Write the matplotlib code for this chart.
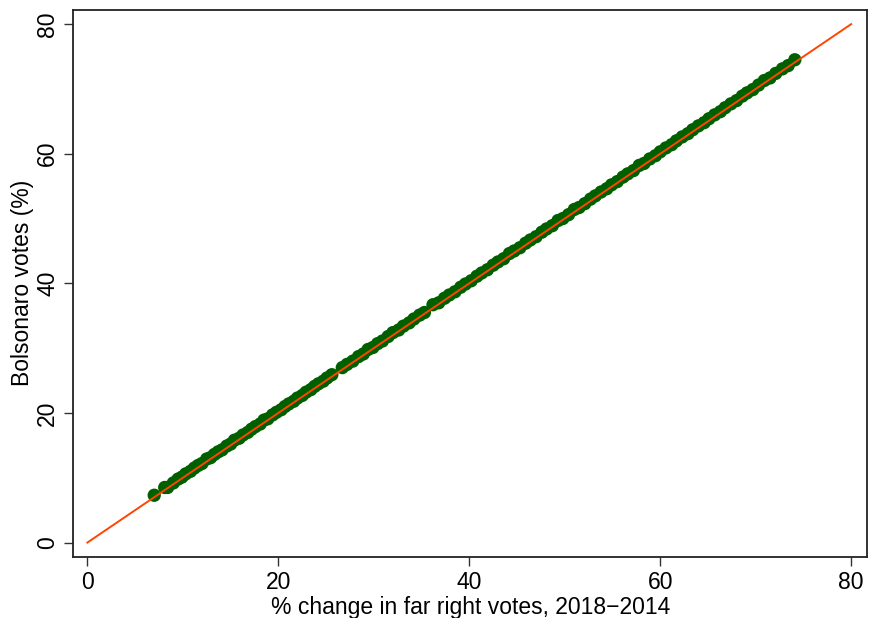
import matplotlib.pyplot as plt
import numpy as np

plt.rcParams['font.family'] = ['Liberation Sans', 'DejaVu Sans']

# Dados (variação % extrema direita vs votos Bolsonaro)
far_right = [7.0, 8.1, 8.4, 9.0, 9.5, 9.9, 10.3, 10.8, 11.2, 11.6, 12.0, 12.5,
             12.9, 13.3, 13.7, 14.1, 14.6, 15.0, 15.4, 15.9, 16.3, 16.8, 17.2,
             17.6, 18.1, 18.5, 18.9, 19.4, 19.8, 20.3, 20.7, 21.1, 21.6, 22.0,
             22.5, 22.9, 23.4, 23.8, 24.2, 24.7, 25.1, 25.6, 26.7, 27.2, 27.8,
             28.4, 28.9, 29.4, 29.9, 30.4, 30.9, 31.5, 32.0, 32.6, 33.1, 33.7,
             34.2, 34.8, 35.3, 36.2, 36.8, 37.4, 37.9, 38.5, 39.1, 39.6, 40.2,
             40.8, 41.3, 41.9, 42.5, 43.0, 43.6, 44.2, 44.7, 45.3, 45.9, 46.4,
             47.0, 47.6, 48.1, 48.7, 49.3, 49.8, 50.4, 51.0, 51.5, 52.1, 52.7,
             53.2, 53.8, 54.4, 54.9, 55.5, 56.1, 56.6, 57.2, 57.8, 58.3, 58.9,
             59.5, 60.0, 60.6, 61.2, 61.7, 62.3, 62.9, 63.4, 64.0, 64.6, 65.1,
             65.7, 66.3, 66.8, 67.4, 68.0, 68.6, 69.1, 69.7, 70.3, 70.9, 71.5,
             72.1, 72.8, 73.4, 74.1]
bolsonaro = [7.3, 8.5, 8.5, 9.2, 9.8, 10.1, 10.6, 11.0, 11.5, 11.9, 12.2, 12.9,
             13.1, 13.6, 14.0, 14.3, 14.9, 15.2, 15.8, 16.1, 16.6, 17.0, 17.5,
             17.9, 18.3, 18.9, 19.1, 19.7, 20.1, 20.5, 21.0, 21.4, 21.8, 22.3,
             22.7, 23.2, 23.6, 24.1, 24.5, 24.9, 25.4, 25.9, 27.0, 27.5, 28.0,
             28.7, 29.1, 29.8, 30.1, 30.7, 31.1, 31.8, 32.4, 32.8, 33.4, 33.9,
             34.5, 35.1, 35.5, 36.7, 37.0, 37.7, 38.2, 38.7, 39.4, 39.9, 40.4,
             41.1, 41.6, 42.1, 42.8, 43.3, 43.8, 44.6, 45.0, 45.5, 46.2, 46.7,
             47.2, 47.9, 48.4, 48.9, 49.7, 50.0, 50.6, 51.4, 51.7, 52.3, 53.0,
             53.5, 54.1, 54.6, 55.2, 55.7, 56.4, 56.9, 57.4, 58.2, 58.5, 59.2,
             59.7, 60.3, 60.9, 61.4, 62.0, 62.6, 63.1, 63.7, 64.3, 64.8, 65.4,
             66.0, 66.5, 67.1, 67.7, 68.2, 68.9, 69.4, 69.9, 70.6, 71.3, 71.7,
             72.4, 73.1, 73.6, 74.5]
linha = [0, 80]
ticks = [0, 20, 40, 60, 80]

fig = plt.figure(figsize=(8.7, 6.18), dpi=100)
ax = fig.add_axes([0.084, 0.099, 0.913, 0.885])

ax.scatter(far_right, bolsonaro, s=92, color='#006000', edgecolors='none', zorder=2)
ax.plot(linha, linha, color='#ff4500', linewidth=1.4, zorder=3)

ax.set_xlim(-1.5, 81.7)
ax.set_ylim(-2.2, 82.2)
ax.set_xticks(ticks)
ax.set_yticks(ticks)
ax.tick_params(axis='both', length=6.5, width=1, labelsize=16.5, color='#333333')
ax.tick_params(axis='x', pad=4)
for lab in ax.get_yticklabels():
    lab.set_rotation(90)
    lab.set_va('center')
for s in ax.spines.values():
    s.set_linewidth(1.3)
    s.set_color('#222222')

ax.set_xlabel('% change in far right votes, 2018\u22122014', fontsize=16.5, labelpad=1)
ax.set_ylabel('Bolsonaro votes (%)', fontsize=16.5, labelpad=1.5)

plt.savefig('out.png', dpi=100)
